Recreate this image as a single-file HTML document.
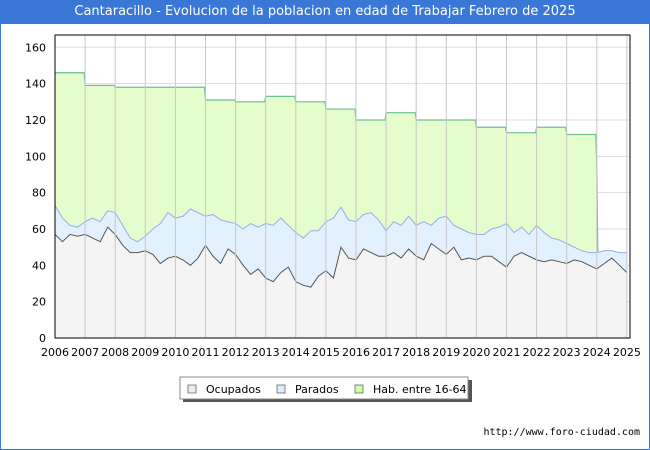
<!DOCTYPE html>
<html><head><meta charset="utf-8"><style>
body{margin:0;width:650px;height:450px;background:#fff;font-family:"DejaVu Sans","Liberation Sans",sans-serif;overflow:hidden}
#frame{position:absolute;left:0;top:0;width:648px;height:448px;border:1px solid #3a78d8}
#title{position:absolute;left:0;top:0;width:650px;height:24px;background:#3a78d8;color:#fff;font-size:13px;line-height:24px;text-align:center}
#url{position:absolute;right:10px;top:427px;font-size:10px;font-family:"DejaVu Sans Mono","Liberation Mono",monospace;color:#000}
</style></head><body>
<div id="frame"></div>
<div id="title">Cantaracillo - Evolucion de la poblacion en edad de Trabajar Febrero de 2025</div>
<svg id="chart" width="650" height="450" style="position:absolute;left:0;top:0"></svg>
<div id="url">http://www.foro-ciudad.com</div>
<script>
const years=[2006,2007,2008,2009,2010,2011,2012,2013,2014,2015,2016,2017,2018,2019,2020,2021,2022,2023,2024,2025];
const yTicks=[0,20,40,60,80,100,120,140,160];
const habYears=[2006,2007,2008,2009,2010,2011,2012,2013,2014,2015,2016,2017,2018,2019,2020,2021,2022,2023];
const habValues=[146,139,138,138,138,131,130,133,130,126,120,124,120,120,116,113,116,112];
const ocupados=[57,53,57,56, 57,55,53,61, 57,51,47,47, 48,46,41,44, 45,43,40,44, 51,45,41,49, 46,40,35,38, 33,31,36,39, 31,29,28,34, 37,33,50,44, 43,49,47,45, 45,47,44,49, 45,43,52,49, 46,50,43,44, 43,45,45,42, 39,45,47,45, 43,42,43,42, 41,43,42,40, 38,41,44,40, 36];
const totalParadosOcup=[73,66,62,61, 64,66,64,70, 69,62,55,53, 56,60,63,69, 66,67,71,69, 67,68,65,64, 63,60,63,61, 63,62,66,62, 58,55,59,59, 64,66,72,65, 64,68,69,65, 59,64,62,67, 62,64,62,66, 67,62,60,58, 57,57,60,61, 63,58,61,57, 62,58,55,54, 52,50,48,47, 47,48,48,47, 47];

const L=55,R=630,T=35,B=338;
const xs=t=>55+(t-2006)*30.1;
const Y=v=>B-v*(B-47.3)/160;
const svg=document.getElementById('chart');
const NS='http://www.w3.org/2000/svg';
function mk(tag,attrs,parent){const e=document.createElementNS(NS,tag);for(const k in attrs)e.setAttribute(k,attrs[k]);(parent||svg).appendChild(e);return e;}

yTicks.forEach(v=>{
  const l=mk('line',{x1:L,x2:R,y1:Y(v),y2:Y(v),stroke:'#dddddd','stroke-width':1});
  
  
});
let hl='';
habYears.forEach((yr,i)=>{hl+=`${i?' L':'M'}${xs(yr)},${Y(habValues[i])} L${xs(yr+1)-1},${Y(habValues[i])}`;});
const endT=2024, endV=totalParadosOcup[72];
hl+=` L${xs(endT)},${Y(95)} L${xs(endT)+1},${Y(endV)}`;
const hp=`M${xs(2006)},${Y(0)} L`+hl.slice(1)+` L${xs(endT)+1},${Y(0)} Z`;
const ha=mk('path',{d:hp,fill:'#e5fccc',stroke:'none'});


const hln=mk('path',{d:hl,fill:'none',stroke:'#6fbf8f','stroke-width':1.2});



const tt=i=>2006+i*0.25;
function pts(arr){return arr.map((v,i)=>`${xs(tt(i))},${Y(v)}`).join(' L');}
const lastT=tt(totalParadosOcup.length-1);
const pa=mk('path',{d:`M${xs(2006)},${Y(0)} L${pts(totalParadosOcup)} L${xs(lastT)},${Y(0)} Z`,fill:'#e3f0fd'});


const pl=mk('path',{d:`M${pts(totalParadosOcup)}`,fill:'none',stroke:'#8fb0ee','stroke-width':1});


const oa=mk('path',{d:`M${xs(2006)},${Y(0)} L${pts(ocupados)} L${xs(lastT)},${Y(0)} Z`,fill:'#f4f4f4'});


const ol=mk('path',{d:`M${pts(ocupados)}`,fill:'none',stroke:'#555','stroke-width':1});



years.forEach(yr=>{
  const l=mk('line',{x1:xs(yr),x2:xs(yr),y1:T,y2:B,stroke:'#c8c8c8','stroke-width':1});
  
  
  const t=mk('text',{x:xs(yr),y:356,'font-size':11,'text-anchor':'middle',fill:'#000'});
  t.textContent=yr;
  
  
});
yTicks.forEach(v=>{
  const t=mk('text',{x:46,y:Y(v)+4,'font-size':11,'text-anchor':'end',fill:'#000'});
  t.textContent=v;
  
  
});
const fr=mk('rect',{x:L,y:T,width:R-L,height:B-T,fill:'none',stroke:'#000','stroke-width':1});



const lg=mk('g',{});


mk('rect',{x:183,y:380,width:289,height:22,fill:'#555'},lg);
mk('rect',{x:180,y:377,width:288,height:22,fill:'#fff',stroke:'#888'},lg);
[['Ocupados','#eeeeee',188,'legend-ocupados'],['Parados','#ddeeff',277,'legend-parados'],['Hab. entre 16-64','#ccffaa',355,'legend-hab']].forEach(d=>{
  const g=mk('g',{},lg);
  
  
  mk('rect',{x:d[2],y:385,width:8,height:8,fill:d[1],stroke:'#666','stroke-width':0.8},g);
  const t=mk('text',{x:d[2]+18,y:393,'font-size':11,fill:'#000'},g);
  t.textContent=d[0];
});
</script>
</body></html>
